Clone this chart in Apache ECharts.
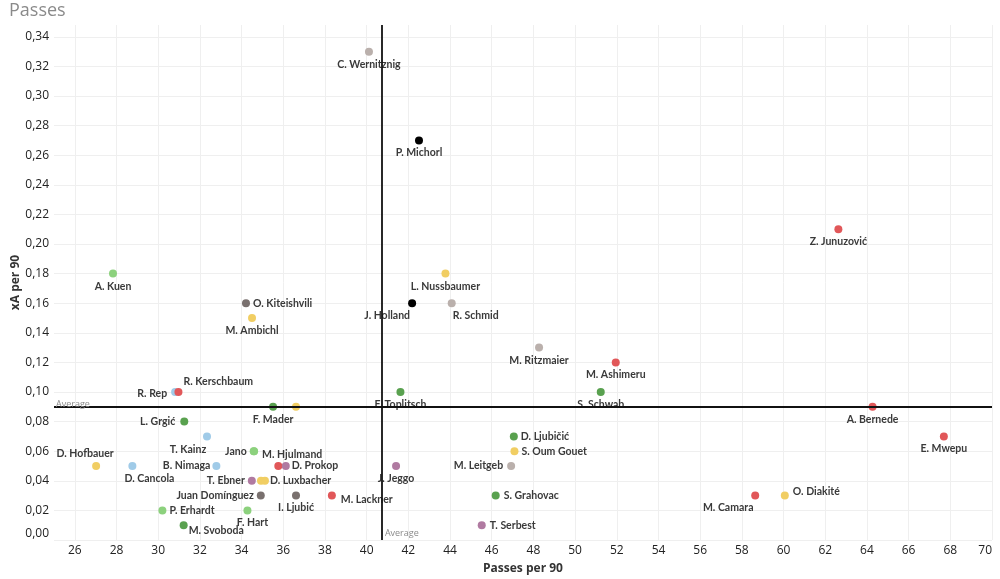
<!DOCTYPE html>
<html>
<head>
<meta charset="utf-8">
<script src="https://cdn.jsdelivr.net/npm/echarts@6/dist/echarts.min.js"></script>
<style>
  html, body { margin: 0; padding: 0; background: #fff; }
  #chart { width: 1000px; height: 579px; }
</style>
</head>
<body>
<div id="chart"></div>
<script>
// ---- data ----
const players = [
  'C. Wernitznig', 'P. Michorl', 'Z. Junuzović', 'A. Kuen', 'L. Nussbaumer',
  'O. Kiteishvili', 'J. Holland', 'R. Schmid', 'M. Ambichl', 'M. Ritzmaier',
  'M. Ashimeru', 'S. Schwab', 'F. Toplitsch', 'R. Rep', 'R. Kerschbaum',
  'F. Mader', '', 'A. Bernede', 'L. Grgić', 'T. Kainz',
  'E. Mwepu', 'D. Ljubičić', 'M. Hjulmand', 'Jano', 'S. Oum Gouet',
  'D. Hofbauer', 'D. Cancola', 'B. Nimaga', '', 'D. Prokop',
  'J. Jeggo', 'M. Leitgeb', 'T. Ebner', '', 'D. Luxbacher',
  'Juan Domínguez', 'I. Ljubić', 'M. Lackner', 'S. Grahovac', 'M. Camara',
  'O. Diakité', 'P. Erhardt', 'F. Hart', 'M. Svoboda', 'T. Serbest'
];
const passesPer90 = [
  40.11, 42.51, 62.63, 27.83, 43.78,
  34.21, 42.18, 44.08, 34.50, 48.27,
  51.95, 51.23, 41.62, 30.81, 30.97,
  35.51, 36.61, 64.27, 31.25, 32.34,
  67.69, 47.06, 34.60, 34.58, 47.09,
  27.02, 28.76, 32.79, 35.76, 36.12,
  41.41, 46.93, 34.49, 34.93, 35.12,
  34.92, 36.61, 38.33, 46.19, 58.64,
  60.06, 30.20, 34.28, 31.22, 45.52
];
const xaPer90 = [
  0.33, 0.27, 0.21, 0.18, 0.18,
  0.16, 0.16, 0.16, 0.15, 0.13,
  0.12, 0.10, 0.10, 0.10, 0.10,
  0.09, 0.09, 0.09, 0.08, 0.07,
  0.07, 0.07, 0.06, 0.06, 0.06,
  0.05, 0.05, 0.05, 0.05, 0.05,
  0.05, 0.05, 0.04, 0.04, 0.04,
  0.03, 0.03, 0.03, 0.03, 0.03,
  0.03, 0.02, 0.02, 0.01, 0.01
];
const team = [
  'T7', 'T8', 'T1', 'T4', 'T2',
  'T9', 'T8', 'T7', 'T2', 'T7',
  'T1', 'T3', 'T3', 'T5', 'T1',
  'T3', 'T2', 'T1', 'T3', 'T5',
  'T1', 'T3', 'T4', 'T4', 'T2',
  'T2', 'T5', 'T5', 'T1', 'T6',
  'T6', 'T7', 'T6', 'T2', 'T2',
  'T9', 'T9', 'T1', 'T3', 'T1',
  'T2', 'T4', 'T4', 'T3', 'T6'
];
const averagePasses = 40.73;
const averageXA = 0.0873;
const xTicks = [26,28,30,32,34,36,38,40,42,44,46,48,50,52,54,56,58,60,62,64,66,68,70];
const yTicks = [0,0.02,0.04,0.06,0.08,0.10,0.12,0.14,0.16,0.18,0.20,0.22,0.24,0.26,0.28,0.30,0.32,0.34];

// ---- styles ----
const teamColor = {
  T1: '#e15759', T2: '#f1ce63', T3: '#59a14f', T4: '#8cd17d', T5: '#a0cbe8',
  T6: '#b07aa1', T7: '#bab0ac', T8: '#000000', T9: '#79706e'
};
// label placement per player: [position, distance, offsetX, offsetY]
const labelPlace = {
  'O. Kiteishvili': ['right', 3, 0, 0],
  'J. Holland': ['bottom', 3, -25, 0],
  'R. Schmid': ['bottom', 3, 24, 0],
  'R. Rep': ['left', 4, 0, 2],
  'R. Kerschbaum': ['right', 1, 0, -10],
  'L. Grgić': ['left', 5, 0, 0],
  'T. Kainz': ['bottom', 4, -19, 0],
  'D. Ljubičić': ['right', 3, 0, 0],
  'M. Hjulmand': ['right', 4, 0, 3],
  'Jano': ['left', 3, 0, 0],
  'S. Oum Gouet': ['right', 3, 0, 0],
  'D. Hofbauer': ['top', 3, -11, 0],
  'D. Cancola': ['bottom', 3, 17, 0],
  'B. Nimaga': ['left', 2, 0, 0],
  'D. Prokop': ['right', 2, 0, 0],
  'M. Leitgeb': ['left', 4, 0, 0],
  'T. Ebner': ['left', 3, 0, 0],
  'D. Luxbacher': ['right', 1, 0, 0],
  'Juan Domínguez': ['left', 3, 0, 0],
  'M. Lackner': ['right', 5, 0, 4],
  'S. Grahovac': ['right', 4, 0, 0],
  'M. Camara': ['bottom', 3, -27, 0],
  'O. Diakité': ['right', 4, 0, -4],
  'P. Erhardt': ['right', 3, 0, 0],
  'F. Hart': ['bottom', 3, 5, 0],
  'M. Svoboda': ['right', 1, 0, 5],
  'T. Serbest': ['right', 4, 0, 0]
};
const FONT = '"Open Sans", "Noto Sans", sans-serif';
const LFONT = 'Lato, "Open Sans", sans-serif';

const points = players.map((name, i) => {
  const p = labelPlace[name] || ['bottom', 3, 0, 0];
  return {
    name: name,
    value: [passesPer90[i], xaPer90[i]],
    itemStyle: { color: teamColor[team[i]], opacity: 1 },
    label: {
      show: name !== '',
      position: p[0],
      distance: p[1],
      offset: [p[2], p[3]]
    }
  };
});

const chart = echarts.init(document.getElementById('chart'), null, { renderer: 'canvas' });
chart.setOption({
  animation: false,
  backgroundColor: '#ffffff',
  title: {
    text: 'Passes',
    left: 4, top: -3,
    textStyle: { fontFamily: FONT, fontSize: 18, fontWeight: 'normal', color: '#8a8a8a' }
  },
  grid: { left: 54, right: 8, top: 25, bottom: 39, containLabel: false, outerBoundsMode: 'none' },
  xAxis: {
    type: 'value',
    min: 25, max: 70,
    name: 'Passes per 90',
    nameLocation: 'middle',
    nameGap: 23,
    nameMoveOverlap: false,
    nameTextStyle: { fontFamily: FONT, fontSize: 12, fontWeight: 'bold', color: '#333' },
    axisLine: { show: false },
    axisTick: { show: false, customValues: xTicks },
    axisLabel: {
      customValues: xTicks,
      margin: 5,
      fontFamily: FONT, fontSize: 12, color: '#222',
      alignMaxLabel: 'right'
    },
    splitLine: { show: true, lineStyle: { color: '#efefef', width: 1 } }
  },
  yAxis: {
    type: 'value',
    min: 0, max: 0.348,
    name: 'xA per 90',
    nameLocation: 'middle',
    nameGap: 32,
    nameMoveOverlap: false,
    nameTextStyle: { fontFamily: FONT, fontSize: 12, fontWeight: 'bold', color: '#333' },
    axisLine: { show: false },
    axisTick: { show: false, customValues: yTicks },
    axisLabel: {
      customValues: yTicks,
      margin: 5,
      fontFamily: FONT, fontSize: 12, color: '#222',
      verticalAlignMinLabel: 'bottom',
      formatter: v => v.toFixed(2).replace('.', ',')
    },
    splitLine: { show: true, lineStyle: { color: '#efefef', width: 1 } }
  },
  series: [{
    type: 'scatter',
    symbolSize: 8,
    data: points,
    label: {
      formatter: '{b}',
      fontFamily: LFONT, fontSize: 10.5, fontWeight: 'bold', color: '#3a3a3a'
    },
    emphasis: { disabled: true },
    markLine: {
      silent: true,
      symbol: 'none',
      label: { show: false },
      lineStyle: { color: '#111', width: 1.8, type: 'solid' },
      data: [{ yAxis: averageXA }, { xAxis: averagePasses }]
    },
    markPoint: {
      silent: true,
      symbol: 'circle',
      symbolSize: 0,
      label: {
        show: true,
        formatter: 'Average',
        fontFamily: FONT, fontSize: 9, color: '#8a8a8a'
      },
      data: [
        { coord: [25, averageXA], label: { position: 'right', distance: 2, offset: [0, -6] } },
        { coord: [averagePasses, 0], label: { position: 'right', distance: 3, offset: [0, -7] } }
      ]
    }
  }]
});
</script>
</body>
</html>
